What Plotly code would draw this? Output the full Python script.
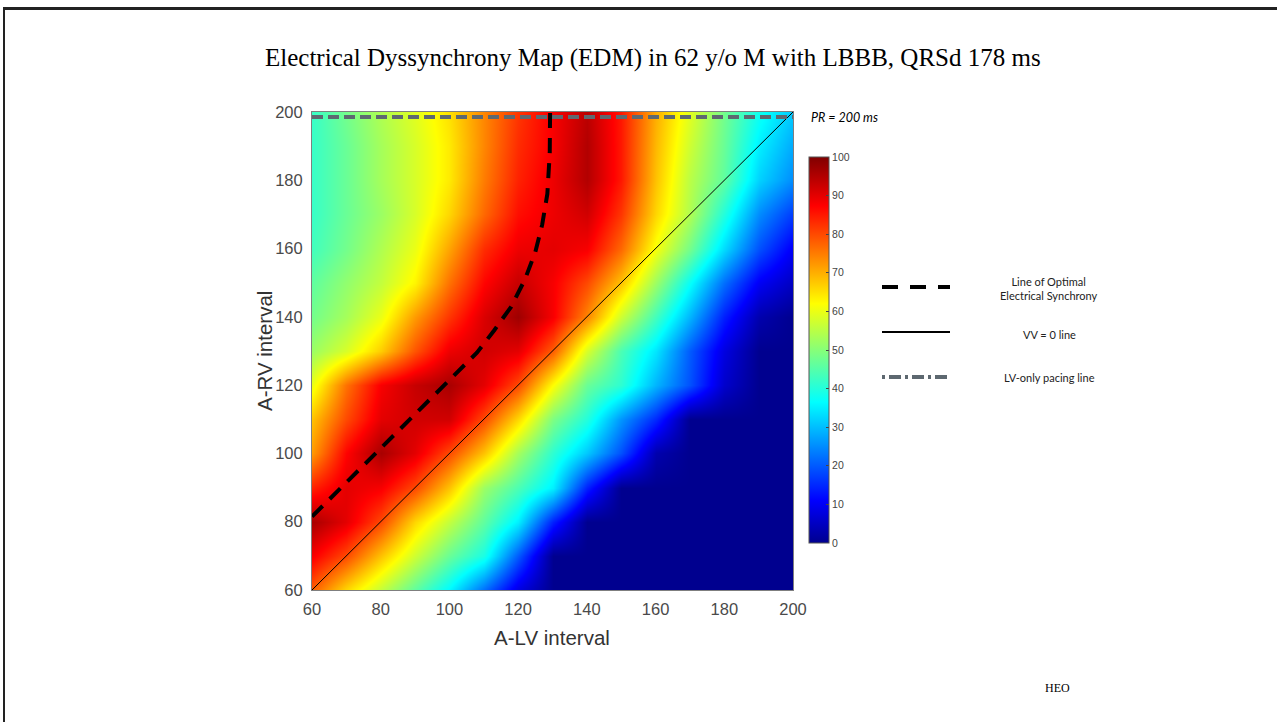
import plotly.graph_objects as go

# ---------------- data ----------------
a_lv = [60, 70, 80, 90, 100, 110, 120, 130, 140, 150, 160, 170, 180, 190, 200]   # x (ms)
a_rv = [60, 70, 80, 90, 100, 110, 120, 130, 140, 150, 160, 170, 180, 190, 200]   # y (ms)

edm_rv060 = [78, 66, 56, 46, 36, 22, 8, 0, 0, 0, 0, 0, 0, 0, 0]
edm_rv070 = [88, 80, 68, 57, 47, 39, 20, 0, 0, 0, 0, 0, 0, 0, 0]
edm_rv080 = [96, 90, 80, 66, 56, 46, 35, 14, 0, 0, 0, 0, 0, 0, 0]
edm_rv090 = [84, 90, 88, 80, 68, 52, 44, 35, 14, 0, 0, 0, 0, 0, 0]
edm_rv100 = [72, 87, 96, 90, 80, 68, 53, 41, 31, 19, 3, 0, 0, 0, 0]
edm_rv110 = [68, 80, 90, 92, 92, 80, 66, 49, 40, 26, 15, 0, 0, 0, 0]
edm_rv120 = [60, 76, 88, 93, 96, 90, 80, 62, 47, 41, 29, 19, 6, 0, 0]
edm_rv130 = [52, 58, 67, 79, 89, 92, 90, 78, 58, 44, 34, 20, 8, 0, 0]
edm_rv140 = [48, 53, 60, 72, 82, 91, 97, 88, 74, 57, 43, 29, 14, 3, 0]
edm_rv150 = [46, 51, 56, 63, 76, 87, 93, 88, 80, 68, 52, 37, 22, 10, 5]
edm_rv160 = [43, 48, 54, 60, 71, 83, 89, 90, 88, 77, 61, 48, 33, 19, 10]
edm_rv170 = [42, 47, 52, 58, 66, 77, 86, 89, 92, 82, 66, 54, 40, 25, 17]
edm_rv180 = [42, 47, 53, 58, 64, 75, 84, 89, 95, 85, 68, 55, 46, 32, 25]
edm_rv190 = [42, 47, 53, 58, 64, 74, 83, 88, 95, 85, 69, 57, 47, 35, 28]
edm_rv200 = [42, 48, 54, 59, 65, 74, 82, 88, 94, 85, 70, 59, 48, 38, 31]
edm = [edm_rv060, edm_rv070, edm_rv080, edm_rv090, edm_rv100,
       edm_rv110, edm_rv120, edm_rv130, edm_rv140, edm_rv150,
       edm_rv160, edm_rv170, edm_rv180, edm_rv190, edm_rv200]

# line of optimal electrical synchrony
opt_lv = [60, 70, 80, 90, 100, 108, 113, 118, 122, 125, 127, 128.5, 129.2, 129.3]
opt_rv = [81.5, 91.5, 101.5, 111.5, 121.5, 129.5, 136, 143, 151, 159, 167, 176, 188, 200]

# VV = 0 line
vv0_lv = [60, 200]
vv0_rv = [60, 200]

# LV-only pacing line (PR = 200 ms)
lvonly_lv = [60, 200]
lvonly_rv = [198.5, 198.5]

tick_vals = [60, 80, 100, 120, 140, 160, 180, 200]
cbar_ticks = [0, 10, 20, 30, 40, 50, 60, 70, 80, 90, 100]

title_text = "Electrical Dyssynchrony Map (EDM) in 62 y/o M with LBBB, QRSd 178 ms"

# ---------------- layout geometry ----------------
W, H = 1277, 722
PL, PR_, PT, PB = 312, 793, 112, 590   # plot area in pixels


def px(xp):
    return (xp - PL) / (PR_ - PL)


def py(yp):
    return (PB - yp) / (PB - PT)


jet = [[0.0, "#00008f"], [0.11, "#0000ff"], [0.365, "#00ffff"],
       [0.62, "#ffff00"], [0.873, "#ff0000"], [1.0, "#800000"]]

fig = go.Figure()

fig.add_trace(go.Heatmap(
    x=a_lv, y=a_rv, z=edm, zsmooth="best", colorscale=jet, zmin=0, zmax=100,
    hoverinfo="skip",
    colorbar=dict(
        x=px(809), xanchor="left", y=py(350), yanchor="middle",
        lenmode="pixels", len=386, thickness=20, thicknessmode="pixels",
        outlinewidth=1, outlinecolor="#555555",
        tickvals=cbar_ticks, ticks="inside", ticklen=3, tickcolor="#444444",
        tickfont=dict(family="Liberation Sans", size=10.5, color="#444444"),
        xpad=0, ypad=0,
    ),
))

fig.add_trace(go.Scatter(x=vv0_lv, y=vv0_rv, mode="lines",
                         line=dict(color="black", width=1), hoverinfo="skip"))
fig.add_trace(go.Scatter(x=lvonly_lv, y=lvonly_rv, mode="lines",
                         line=dict(color="#5d6870", width=4, dash="11px,5px"),
                         hoverinfo="skip"))
fig.add_trace(go.Scatter(x=opt_lv, y=opt_rv, mode="lines",
                         line=dict(color="black", width=4, dash="15px,10px"),
                         hoverinfo="skip"))

axis_common = dict(
    tickvals=tick_vals, ticks="", showgrid=False, zeroline=False,
    showline=True, mirror=True, linecolor="#7f7f7f", linewidth=1,
    tickfont=dict(family="Liberation Sans", size=16.5, color="#4a4a4a"),
)
fig.update_xaxes(range=[60, 200], ticklabelstandoff=4, **axis_common)
fig.update_yaxes(range=[60, 200], ticklabelstandoff=5, **axis_common)

annotations = [
    dict(x=px(653), y=py(58), text=title_text,
         font=dict(family="Liberation Serif", size=25, color="black")),
    dict(x=px(552), y=py(637), text="A-LV interval",
         font=dict(family="Liberation Sans", size=20.5, color="#333333")),
    dict(x=px(264), y=py(351), text="A-RV interval", textangle=-90,
         font=dict(family="Liberation Sans", size=20.5, color="#333333")),
    dict(x=px(844), y=py(118), text="<i>PR = 200 ms</i>",
         font=dict(family="Lato", size=12.5, color="black")),
    dict(x=px(1049), y=py(288), text="Line of Optimal<br>Electrical Synchrony",
         font=dict(family="Lato", size=11, color="#222222")),
    dict(x=px(1049), y=py(334), text="VV = 0 line",
         font=dict(family="Lato", size=11, color="#222222")),
    dict(x=px(1049), y=py(377), text="LV-only pacing line",
         font=dict(family="Lato", size=11, color="#222222")),
    dict(x=px(1057), y=py(688), text="HEO",
         font=dict(family="Liberation Serif", size=12, color="black")),
]
for a in annotations:
    a.update(xref="paper", yref="paper", xanchor="center", yanchor="middle",
             showarrow=False)

shapes = [
    # legend samples
    dict(type="line", x0=px(882), x1=px(950), y0=py(287), y1=py(287),
         line=dict(color="black", width=4, dash="16px,12px")),
    dict(type="line", x0=px(882), x1=px(950), y0=py(332), y1=py(332),
         line=dict(color="black", width=2)),
    dict(type="line", x0=px(882), x1=px(950), y0=py(377), y1=py(377),
         line=dict(color="#5d6870", width=4, dash="3px,4px,12px,4px")),
    # slide frame
    dict(type="line", x0=px(3), x1=px(1280), y0=py(8.5), y1=py(8.5),
         line=dict(color="#222222", width=3)),
    dict(type="line", x0=px(4), x1=px(4), y0=py(8), y1=py(725),
         line=dict(color="#222222", width=2)),
]
for s in shapes:
    s.update(xref="paper", yref="paper")

fig.update_layout(
    width=W, height=H, autosize=False,
    margin=dict(l=PL, r=W - PR_, t=PT, b=H - PB, pad=0),
    paper_bgcolor="white", plot_bgcolor="white",
    showlegend=False, annotations=annotations, shapes=shapes,
)

fig.write_html("out.html", config={"displayModeBar": False},
               post_script="document.body.style.margin='0px';"
                           "document.body.style.overflow='hidden';")
